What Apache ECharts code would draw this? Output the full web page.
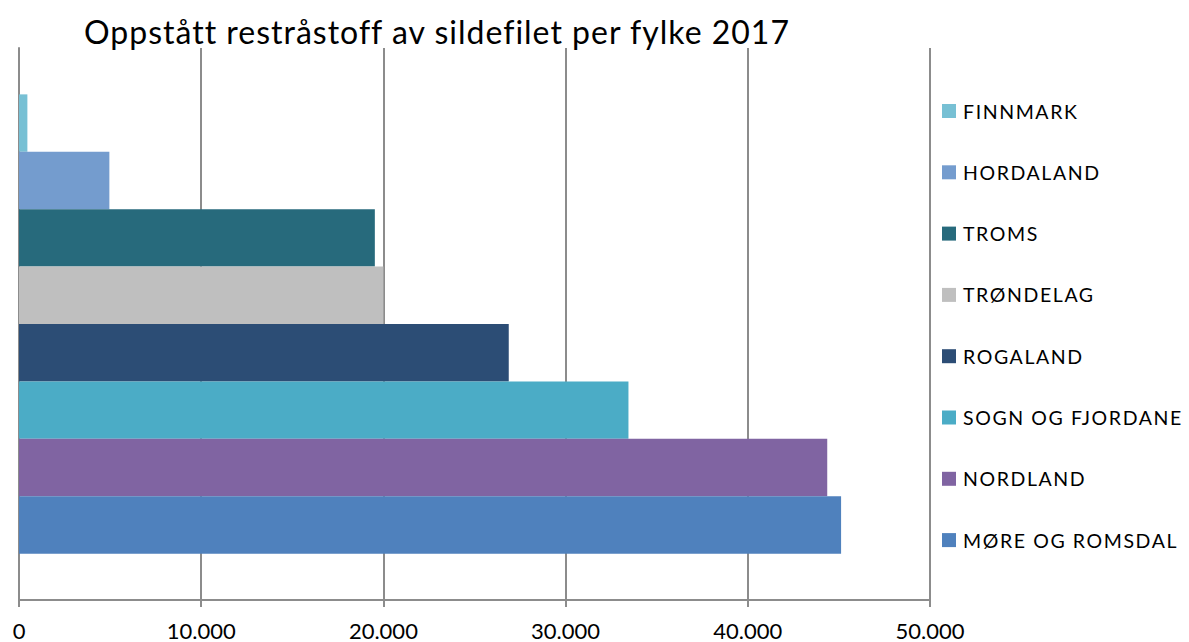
<!DOCTYPE html>
<html>
<head>
<meta charset="utf-8">
<script src="https://cdn.jsdelivr.net/npm/echarts@6/dist/echarts.min.js"></script>
<style>
  html, body { margin: 0; padding: 0; background: #fff; }
  #chart { width: 1189px; height: 642px; }
  /* wider tracking for the title and the legend entries */
  #chart svg text[style*="32px"] { letter-spacing: 1px; }
  #chart svg text[style*="19.5px"] { letter-spacing: 1.6px; }
</style>
</head>
<body>
<div id="chart"></div>
<script>
// Residual raw material from herring fillet production per county, 2017 (tonnes)
const counties = ['FINNMARK', 'HORDALAND', 'TROMS', 'TRØNDELAG', 'ROGALAND', 'SOGN OG FJORDANE', 'NORDLAND', 'MØRE OG ROMSDAL'];
const amounts = [460, 4960, 19530, 20000, 26880, 33450, 44360, 45120];
const colors = ['#77C0D4', '#749CCE', '#276A7C', '#BFBFBF', '#2C4D75', '#4BACC6', '#8064A2', '#4F81BD'];
const xTicks = [0, 10000, 20000, 30000, 40000, 50000];

const fmt = v => v === 0 ? '0' : String(v).replace(/\B(?=(\d{3})+(?!\d))/g, '.');
const fontFam = 'Lato, "Open Sans", sans-serif';

const chart = echarts.init(document.getElementById('chart'), null, { renderer: 'svg' });

const series = counties.map((name, i) => ({
  name: name,
  type: 'bar',
  data: [amounts[i]],
  barGap: '0%',
  barCategoryGap: '16.8%',
  itemStyle: { color: colors[i] }
}));

chart.setOption({
  animation: false,
  title: {
    text: 'Oppstått restråstoff av sildefilet per fylke 2017',
    left: 79,
    top: 10,
    textStyle: { fontFamily: fontFam, fontSize: 32, fontWeight: 'normal', color: '#000' }
  },
  legend: {
    orient: 'vertical',
    left: 937,
    top: 96,
    itemWidth: 14,
    itemHeight: 14,
    itemGap: 41.3,
    icon: 'rect',
    data: counties,
    textStyle: {
      fontFamily: fontFam, fontSize: 19.5,
      color: '#000', padding: [0, 0, 0, 2]
    }
  },
  grid: { left: 19, right: 259, top: 48, bottom: 42 },
  xAxis: {
    type: 'value',
    min: xTicks[0],
    max: xTicks[xTicks.length - 1],
    interval: xTicks[1] - xTicks[0],
    axisLine: { show: true, lineStyle: { color: '#8c8c8c', width: 2 } },
    axisTick: { show: true, length: 7, lineStyle: { color: '#8c8c8c', width: 2 } },
    splitLine: { show: true, lineStyle: { color: '#8c8c8c', width: 2 } },
    axisLabel: {
      margin: 19,
      fontFamily: fontFam,
      fontSize: 22,
      color: '#000',
      formatter: fmt
    }
  },
  yAxis: {
    type: 'category',
    data: ['2017'],
    axisLine: { show: true, lineStyle: { color: '#8c8c8c', width: 2 } },
    axisTick: { show: false },
    axisLabel: { show: false }
  },
  series: series
});
</script>
</body>
</html>
